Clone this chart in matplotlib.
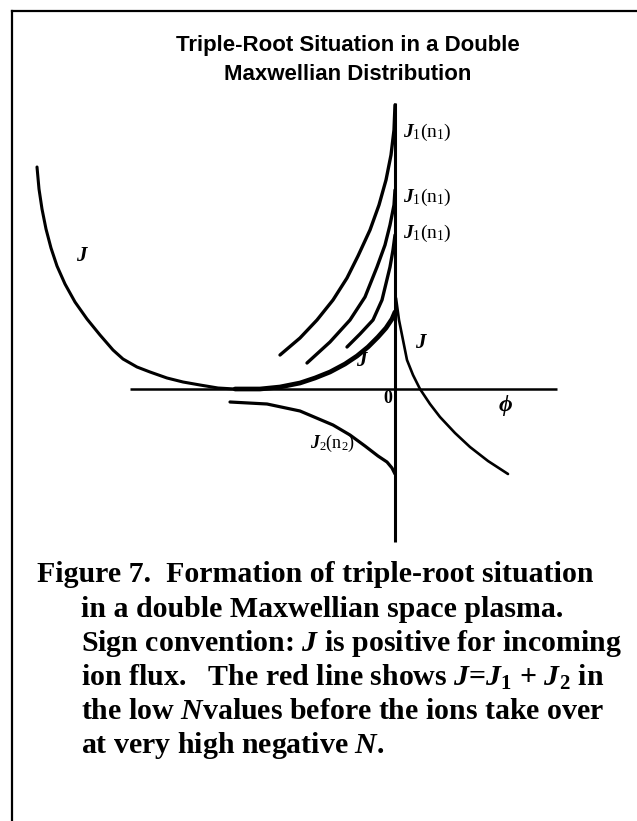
import matplotlib
matplotlib.use('Agg')
import matplotlib.pyplot as plt
from matplotlib.lines import Line2D

plt.rcParams['mathtext.fontset'] = 'custom'
plt.rcParams['mathtext.rm'] = 'Liberation Serif'
plt.rcParams['mathtext.it'] = 'Liberation Serif:italic'
plt.rcParams['mathtext.bf'] = 'Liberation Serif:bold'
plt.rcParams['mathtext.bfit'] = 'Liberation Serif:bold:italic'

# curves (phi to the right, J up, origin at the axes cross)
left_phi = [-358, -356, -353, -349, -344, -338, -330, -320, -308, -295, -282, -272,
            -258, -245, -228, -212, -195, -177, -160]
left_J = [222, 200, 180, 160, 141, 123, 105, 87, 70, 54, 39, 30, 22, 17, 11, 7, 4, 1, 0]

sum_phi = [-160, -135, -115, -95, -80, -65, -50, -38, -27, -17, -9, -3, 0]
sum_J = [0, 0, 2, 6, 11, 17, 25, 33, 42, 52, 61, 70, 77]

j1a_phi = [-115, -95, -78, -62, -48, -37, -25, -16, -9, -4, -1, 0]
j1a_J = [34, 51, 69, 89, 111, 133, 159, 184, 209, 234, 259, 284]

j1b_phi = [-88, -65, -45, -30, -18, -10, -5, -1, 0]
j1b_J = [26, 47, 69, 92, 122, 144, 164, 184, 199]

j1c_phi = [-48, -35, -22, -13, -5, -2, 0]
j1c_J = [42, 55, 69, 89, 122, 139, 154]

right_phi = [1, 4, 8, 12, 18, 25, 35, 45, 60, 75, 93, 113]
right_J = [91, 69, 49, 29, 14, 0, -15, -28, -44, -58, -72, -85]

j2_phi = [-165, -128, -95, -62, -45, -30, -17, -8, -3, 0]
j2_J = [-13, -15, -22, -36, -46, -57, -67, -73, -79, -85]

phi_axis = [-265, 162]
J_axis = [-153, 286]

title_lines = ["Triple-Root Situation in a Double", "Maxwellian Distribution"]
j1_label = r"$\mathbfit{J}_{\mathit{1}}(\mathrm{n}_{1})$"
j1_label_J = [257, 192, 156]

caption = [
    "Figure 7.  Formation of triple-root situation",
    "in a double Maxwellian space plasma.",
    r"Sign convention: $\mathbfit{J}$ is positive for incoming",
    r"ion flux.   The red line shows $\mathbfit{J}$=$\mathbfit{J}_\mathbf{1}$ + $\mathbfit{J}_\mathbf{2}$ in",
    r"the low $\mathbfit{N}$values before the ions take over",
    r"at very high negative $\mathbfit{N}$.",
]

W, H = 637, 821
fig = plt.figure(figsize=(W / 100, H / 100), dpi=100)
ax = fig.add_axes([0, 0, 1, 1])
ax.set_xlim(-395, W - 395)
ax.set_ylim(389 - H, 389)
ax.axis('off')

# frame of the scanned page
fig.add_artist(Line2D([12 / W, 12 / W], [0, 1 - 11 / H], color='black', lw=1.6))
fig.add_artist(Line2D([12 / W, 1], [1 - 11 / H, 1 - 11 / H], color='black', lw=1.6))

# axes
ax.plot(phi_axis, [0, 0], color='black', lw=1.8, solid_capstyle='butt')
ax.plot([0, 0], J_axis, color='black', lw=2.2, solid_capstyle='butt')

ax.plot(left_phi, left_J, color='black', lw=2.2, solid_capstyle='round',
        solid_joinstyle='round')
ax.plot(sum_phi, sum_J, color='black', lw=3.4, solid_capstyle='round',
        solid_joinstyle='round')
for p, j in [(j1a_phi, j1a_J), (j1b_phi, j1b_J), (j1c_phi, j1c_J)]:
    ax.plot(p, j, color='black', lw=2.4, solid_capstyle='round', solid_joinstyle='round')
ax.plot(right_phi, right_J, color='black', lw=1.9, solid_capstyle='round',
        solid_joinstyle='round')
ax.plot(j2_phi, j2_J, color='black', lw=2.3, solid_capstyle='round',
        solid_joinstyle='round')

# labels
for jy in j1_label_J:
    ax.text(8, jy, j1_label, fontsize=14, ha='left', va='center')
ax.text(-312, 134, r"$\mathbfit{J}$", fontsize=15, ha='center', va='center')
ax.text(-32, 29, r"$\mathbfit{J}$", fontsize=15, ha='center', va='center')
ax.text(27, 47, r"$\mathbfit{J}$", fontsize=15, ha='center', va='center')
ax.text(-85, -54, r"$\mathbfit{J}_{\mathit{2}}(\mathrm{n}_{2})$", fontsize=13,
        ha='left', va='center')
ax.text(-7, -9, "0", fontsize=13, fontweight='bold', family='Liberation Serif',
        ha='center', va='center')
ax.text(110, -16, r"$\boldsymbol{\phi}$", fontsize=17, ha='center', va='center')

for i, line in enumerate(title_lines):
    fig.text(348 / W, 1 - (46 + 29 * i) / H, line, fontsize=16, fontweight='bold',
             family='Liberation Sans', ha='center', va='center')

for i, line in enumerate(caption):
    x0 = 37 if i == 0 else 81
    fig.text(x0 / W, 1 - (575 + 34 * i) / H, line, fontsize=21.5, fontweight='bold',
             family='Liberation Serif', ha='left', va='center')

fig.savefig('out.png', dpi=100)
